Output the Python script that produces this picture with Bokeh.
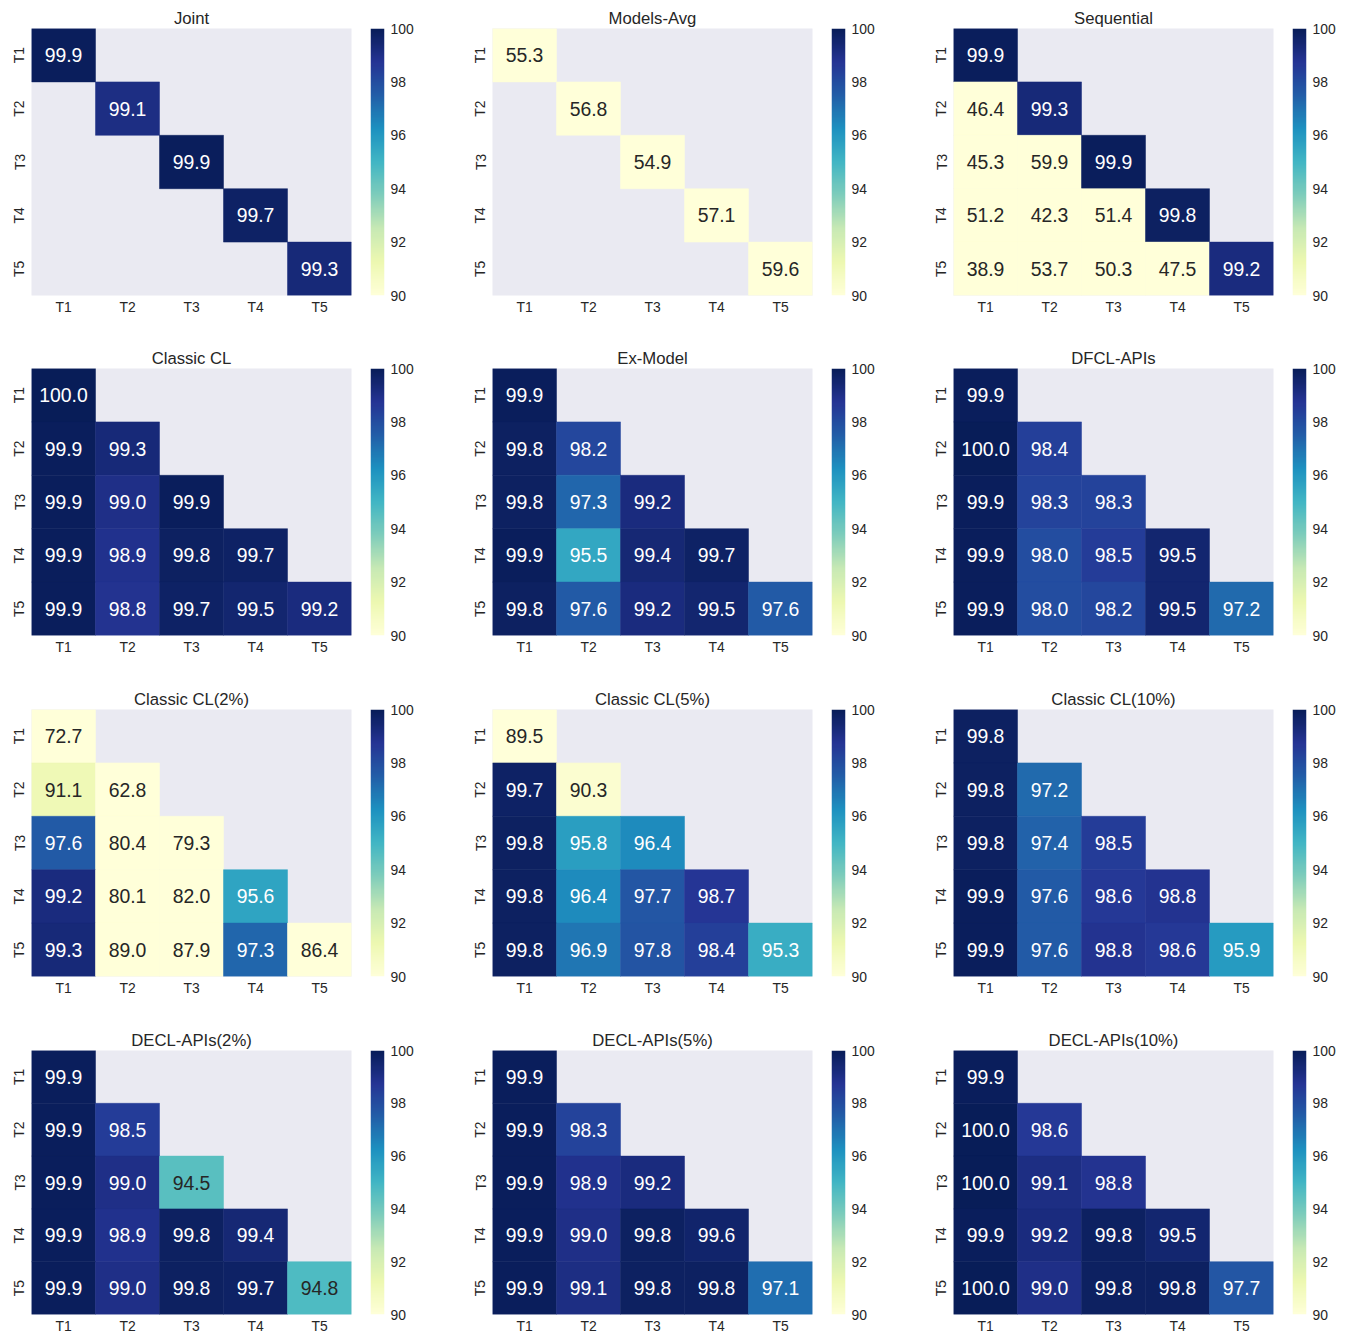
import numpy as np
from bokeh.plotting import figure
from bokeh.layouts import gridplot
from bokeh.models import ColumnDataSource, FactorRange, Range1d, LinearColorMapper, FixedTicker, Title
from bokeh.transform import linear_cmap
from bokeh.embed import file_html
from bokeh.resources import INLINE
from bokeh.core.properties import value

tasks = ["T1", "T2", "T3", "T4", "T5"]
N = None

joint = [[99.9], [N, 99.1], [N, N, 99.9], [N, N, N, 99.7], [N, N, N, N, 99.3]]
models_avg = [[55.3], [N, 56.8], [N, N, 54.9], [N, N, N, 57.1], [N, N, N, N, 59.6]]
sequential = [[99.9], [46.4, 99.3], [45.3, 59.9, 99.9], [51.2, 42.3, 51.4, 99.8],
              [38.9, 53.7, 50.3, 47.5, 99.2]]
classic_cl = [[100.0], [99.9, 99.3], [99.9, 99.0, 99.9], [99.9, 98.9, 99.8, 99.7],
              [99.9, 98.8, 99.7, 99.5, 99.2]]
ex_model = [[99.9], [99.8, 98.2], [99.8, 97.3, 99.2], [99.9, 95.5, 99.4, 99.7],
            [99.8, 97.6, 99.2, 99.5, 97.6]]
dfcl_apis = [[99.9], [100.0, 98.4], [99.9, 98.3, 98.3], [99.9, 98.0, 98.5, 99.5],
             [99.9, 98.0, 98.2, 99.5, 97.2]]
classic_cl_2 = [[72.7], [91.1, 62.8], [97.6, 80.4, 79.3], [99.2, 80.1, 82.0, 95.6],
                [99.3, 89.0, 87.9, 97.3, 86.4]]
classic_cl_5 = [[89.5], [99.7, 90.3], [99.8, 95.8, 96.4], [99.8, 96.4, 97.7, 98.7],
                [99.8, 96.9, 97.8, 98.4, 95.3]]
classic_cl_10 = [[99.8], [99.8, 97.2], [99.8, 97.4, 98.5], [99.9, 97.6, 98.6, 98.8],
                 [99.9, 97.6, 98.8, 98.6, 95.9]]
decl_2 = [[99.9], [99.9, 98.5], [99.9, 99.0, 94.5], [99.9, 98.9, 99.8, 99.4],
          [99.9, 99.0, 99.8, 99.7, 94.76]]
decl_5 = [[99.9], [99.9, 98.3], [99.9, 98.9, 99.2], [99.9, 99.0, 99.8, 99.6],
          [99.9, 99.1, 99.8, 99.8, 97.1]]
decl_10 = [[99.9], [100.0, 98.6], [100.0, 99.1, 98.8], [99.9, 99.2, 99.8, 99.5],
           [100.0, 99.0, 99.8, 99.8, 97.7]]

titles = ["Joint", "Models-Avg", "Sequential",
          "Classic CL", "Ex-Model", "DFCL-APIs",
          "Classic CL(2%)", "Classic CL(5%)", "Classic CL(10%)",
          "DECL-APIs(2%)", "DECL-APIs(5%)", "DECL-APIs(10%)"]
matrices = [joint, models_avg, sequential, classic_cl, ex_model, dfcl_apis,
            classic_cl_2, classic_cl_5, classic_cl_10, decl_2, decl_5, decl_10]

VMIN, VMAX = 90, 100
cbar_ticks = [90, 92, 94, 96, 98, 100]

# YlGnBu colormap (light -> dark), interpolated to 256 colours
base = ['#ffffd9', '#edf8b1', '#c7e9b4', '#7fcdbb', '#41b6c4',
        '#1d91c0', '#225ea8', '#253494', '#081d58']
brgb = np.array([[int(h[k:k + 2], 16) / 255 for k in (1, 3, 5)] for h in base])
tt = np.linspace(0, 1, 256)
rgb256 = np.stack([np.interp(tt, np.linspace(0, 1, 9), brgb[:, k]) for k in range(3)], axis=1)
palette = ['#%02x%02x%02x' % tuple(int(round(c * 255)) for c in r) for r in rgb256]


def text_color(v):
    idx = int(np.clip((v - VMIN) / (VMAX - VMIN) * 256, 0, 255))
    rgb = rgb256[idx]
    rgb = np.where(rgb <= .03928, rgb / 12.92, ((rgb + .055) / 1.055) ** 2.4)
    lum = float(rgb.dot([.2126, .7152, .0722]))
    return "#262626" if lum > .408 else "#ffffff"


FONT = "Liberation Sans"
TXT = "#262626"
TICK_SIZE = "13.9px"

HEAT_W = 370
LEFT = 31
col_cbar_w = [91, 91, 52]
row_h = [340, 341, 341, 314]
FRAME_H = 267
TOP = 28


def style_axis(ax, standoff=3):
    ax.major_label_text_font_size = TICK_SIZE
    ax.major_label_text_color = TXT
    ax.major_label_text_font = FONT
    ax.major_tick_line_color = None
    ax.minor_tick_line_color = None
    ax.major_tick_out = 0
    ax.major_tick_in = 0
    ax.axis_line_color = None
    ax.major_label_standoff = standoff


def heat(rows, title, h):
    xs, ys, vs, labels, tcs = [], [], [], [], []
    for i, row in enumerate(rows):
        for j, v in enumerate(row):
            if v is None:
                continue
            xs.append(tasks[j]); ys.append(tasks[i]); vs.append(v)
            labels.append(f"{v:.1f}"); tcs.append(text_color(v))
    src = ColumnDataSource(dict(x=xs, y=ys, v=vs, label=labels, tc=tcs))
    p = figure(width=HEAT_W, height=h, x_range=FactorRange(*tasks),
               y_range=FactorRange(*tasks[::-1]), output_backend="svg",
               toolbar_location=None, min_border_left=LEFT, min_border_right=19,
               min_border_top=TOP, min_border_bottom=h - TOP - FRAME_H)
    p.title = Title(text=title, align="center", text_font_size="16.7px",
                    text_font=FONT, text_color=TXT, text_font_style="normal",
                    standoff=2)
    cmap = linear_cmap("v", palette, VMIN, VMAX, low_color=palette[0], high_color=palette[-1])
    p.rect(x="x", y="y", width=1, height=1, source=src, fill_color=cmap,
           line_color=cmap, line_width=0.5)
    p.text(x="x", y="y", text="label", source=src, text_color="tc",
           text_align="center", text_baseline="middle", text_font_size="19.4px",
           text_font=value(FONT))
    p.background_fill_color = "#EAEAF2"
    p.border_fill_color = "white"
    p.outline_line_color = None
    p.grid.visible = False
    style_axis(p.xaxis[0], 3)
    style_axis(p.yaxis[0], 4)
    p.yaxis[0].major_label_orientation = "vertical"
    return p


def cbar(w, h):
    p = figure(width=w, height=h, x_range=Range1d(0, 1), y_range=Range1d(VMIN, VMAX),
               output_backend="svg", toolbar_location=None, x_axis_location=None,
               y_axis_location="right", min_border_left=0, min_border_right=w - 14,
               min_border_top=TOP, min_border_bottom=h - TOP - FRAME_H)
    mapper = LinearColorMapper(palette=palette, low=VMIN, high=VMAX)
    grad = np.linspace(VMIN, VMAX, 256).reshape(256, 1)
    p.image(image=[grad], x=0, y=VMIN, dw=1, dh=VMAX - VMIN, color_mapper=mapper)
    p.outline_line_color = None
    p.grid.visible = False
    p.background_fill_color = "white"
    ax = p.yaxis[0]
    style_axis(ax, 6)
    ax.ticker = FixedTicker(ticks=cbar_ticks)
    return p


grid = []
for r in range(4):
    row = []
    for c in range(3):
        k = r * 3 + c
        row.append(heat(matrices[k], titles[k], row_h[r]))
        row.append(cbar(col_cbar_w[c], row_h[r]))
    grid.append(row)

layout = gridplot(grid, toolbar_location=None)
open("out.html", "w").write(file_html(layout, INLINE))
